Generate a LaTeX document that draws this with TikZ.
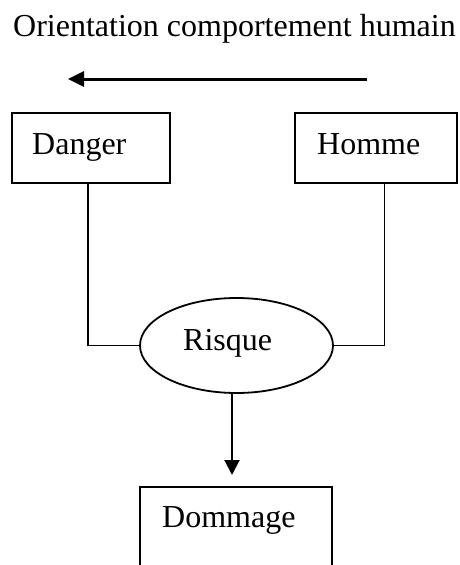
\documentclass[tikz,border=0pt]{standalone}
\usepackage{fontspec}
\setmainfont{Liberation Serif}
\usetikzlibrary{shapes.geometric,arrows.meta}
\begin{document}
\begin{tikzpicture}[x=1pt,y=-1pt,
  box/.style={draw,line width=2pt,rectangle,inner sep=0pt},
  oval/.style={draw,line width=1.8pt,ellipse,inner sep=0pt,minimum width=193pt,minimum height=95pt},
  word/.style={anchor=base west,inner sep=0pt,font=\fontsize{32}{38}\selectfont},
  link/.style={line width=1.8pt}]
\useasboundingbox (0,0) rectangle (459,565);
\clip (0,0) rectangle (459,565);

% title and direction arrow
\node[word] (title) at (13,36) {Orientation comportement humain};
\coordinate (arrstart) at (367,79);
\coordinate (arrend) at (68,79);
\draw[line width=3pt,-{Triangle[length=16pt,width=15pt]}] (arrstart) -- (arrend);

% boxes
\node[box,minimum width=158pt,minimum height=70pt] (danger) at (91,148) {};
\node[word] (dangertext) at (32,154) {Danger};
\node[box,minimum width=162pt,minimum height=70pt] (homme) at (376,148) {};
\node[word] (hommetext) at (317,154) {Homme};

% risk ellipse
\node[oval] (risque) at (236.5,345.5) {};
\node[word] (risquetext) at (183,350) {Risque};

% damage box, open at the lower edge of the page
\node[box,minimum width=192pt,minimum height=110pt] (dommage) at (236,542) {};
\node[word] (dommagetext) at (162,527) {Dommage};

% connectors
\draw[link] (danger.south) ++(-3,0) |- (risque.west);
\draw[link] ([xshift=-2pt]risque.west) -- (risque.west);
\draw[link] (homme.south) ++(8.5,0) |- (risque.east);
\draw[line width=2pt,-{Triangle[length=15pt,width=15pt]},shorten >=11pt]
  ([xshift=-4.5pt]risque.south) -- ([xshift=-4pt]dommage.north);
\end{tikzpicture}
\end{document}
